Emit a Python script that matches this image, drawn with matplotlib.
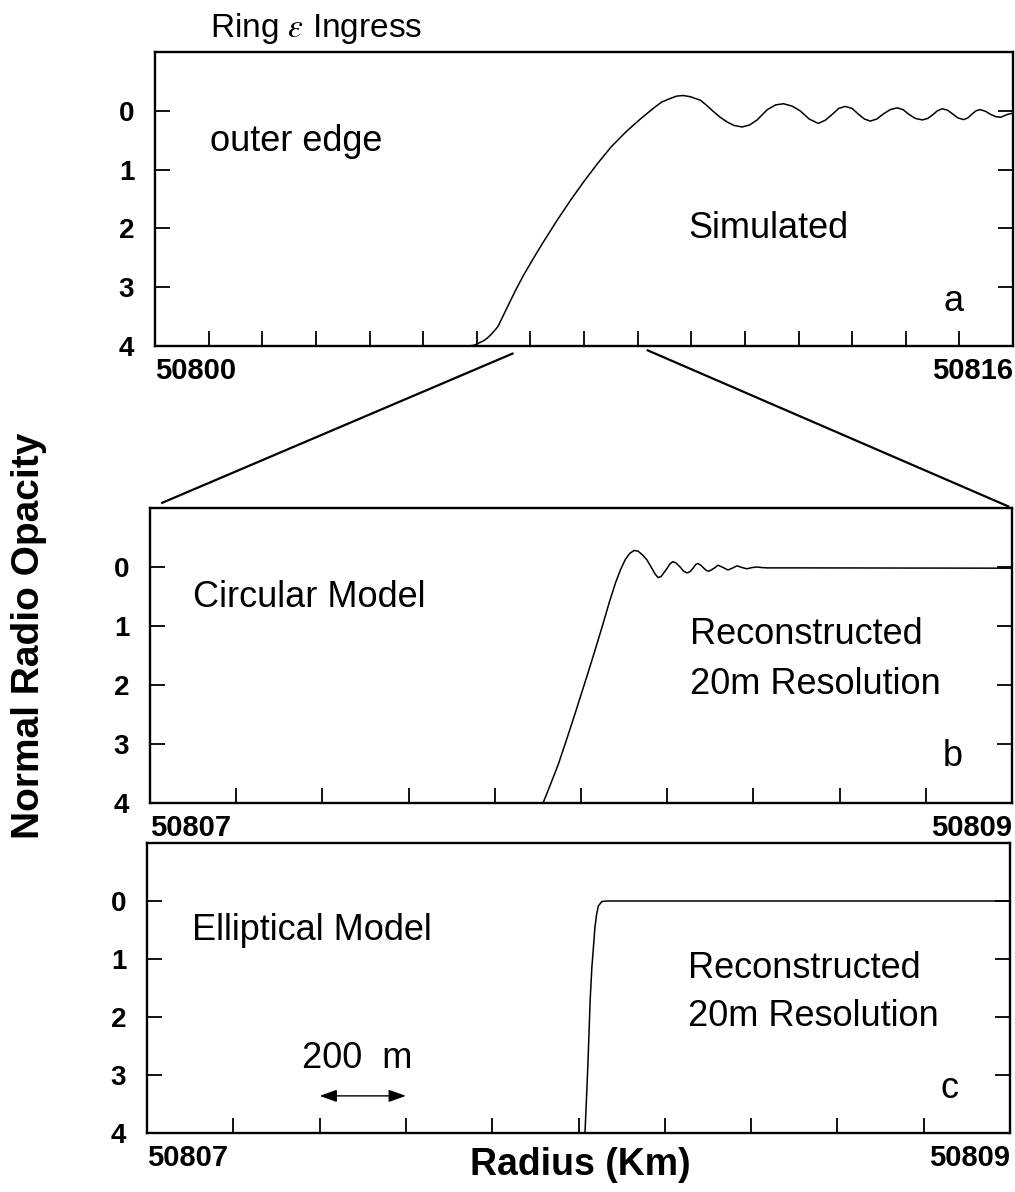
import matplotlib
matplotlib.use("Agg")
import matplotlib.pyplot as plt
from matplotlib.lines import Line2D

plt.rcParams['font.family'] = ['Liberation Sans', 'DejaVu Sans']
plt.rcParams['mathtext.fontset'] = 'stix'

# ---- (a) simulated outer-edge profile ----
sim_radius = [50805.70, 50805.85, 50805.93, 50806.00, 50806.06, 50806.13, 50806.19,
              50806.25, 50806.30, 50806.35, 50806.40, 50806.57, 50806.72, 50806.87,
              50807.05, 50807.25, 50807.50, 50807.75, 50808.00, 50808.25, 50808.50,
              50808.78, 50809.05, 50809.29, 50809.45, 50809.61, 50809.73, 50809.85,
              50809.98, 50810.17, 50810.29, 50810.41, 50810.54, 50810.67, 50810.80,
              50810.95, 50811.09, 50811.23, 50811.32, 50811.42, 50811.57, 50811.72,
              50811.88, 50812.03, 50812.20, 50812.37, 50812.50, 50812.63, 50812.75,
              50812.87, 50813.00, 50813.12, 50813.23, 50813.34, 50813.46, 50813.58,
              50813.71, 50813.84, 50813.95, 50814.05, 50814.18, 50814.31, 50814.41,
              50814.50, 50814.59, 50814.68, 50814.78, 50814.87, 50814.97, 50815.08,
              50815.16, 50815.23, 50815.31, 50815.39, 50815.49, 50815.58, 50815.68,
              50815.77, 50815.90, 50816.00]
sim_opacity = [4.00, 4.00, 3.99, 3.97, 3.94, 3.91, 3.87,
               3.82, 3.77, 3.72, 3.66, 3.34, 3.06, 2.80,
               2.52, 2.22, 1.86, 1.52, 1.20, 0.90, 0.62,
               0.36, 0.14, -0.04, -0.15, -0.21, -0.25, -0.26,
               -0.24, -0.18, -0.09, 0.01, 0.11, 0.19, 0.25,
               0.275, 0.24, 0.155, 0.07, -0.02, -0.10, -0.12,
               -0.08, 0.00, 0.14, 0.215, 0.16, 0.06, -0.04,
               -0.075, -0.04, 0.06, 0.14, 0.175, 0.14, 0.055,
               -0.02, -0.05, -0.02, 0.055, 0.13, 0.155, 0.13,
               0.07, 0.00, -0.035, -0.01, 0.05, 0.12, 0.15,
               0.12, 0.06, 0.00, -0.02, 0.01, 0.06, 0.10,
               0.11, 0.06, 0.04]

# ---- (b) circular-model reconstruction ----
circ_radius = [50807.912, 50807.930, 50807.948, 50807.965, 50807.982, 50807.999,
               50808.016, 50808.033, 50808.050, 50808.066, 50808.080, 50808.092,
               50808.103, 50808.113, 50808.123, 50808.132, 50808.142, 50808.153,
               50808.165, 50808.172, 50808.179, 50808.186, 50808.193, 50808.200,
               50808.206, 50808.213, 50808.220, 50808.230, 50808.238, 50808.246,
               50808.253, 50808.260, 50808.266, 50808.271, 50808.278, 50808.285,
               50808.291, 50808.297, 50808.307, 50808.318, 50808.330, 50808.341,
               50808.351, 50808.362, 50808.374, 50808.385, 50808.397, 50808.408,
               50808.420, 50808.432, 50808.500, 50809.000]
circ_opacity = [4.00, 3.67, 3.33, 2.96, 2.58, 2.19,
                1.80, 1.40, 0.99, 0.59, 0.27, 0.04,
                -0.13, -0.23, -0.28, -0.27, -0.21, -0.12,
                0.03, 0.12, 0.18, 0.16, 0.09, 0.02,
                -0.05, -0.09, -0.07, 0.00, 0.07, 0.10,
                0.08, 0.02, -0.04, -0.06, -0.03, 0.02,
                0.06, 0.07, 0.03, -0.03, 0.01, 0.05,
                0.02, -0.02, 0.01, 0.03, 0.01, 0.00,
                0.01, 0.015, 0.015, 0.02]

# ---- (c) elliptical-model reconstruction ----
ell_radius = [50808.015, 50808.020, 50808.023, 50808.027, 50808.031, 50808.034,
              50808.038, 50808.042, 50808.046, 50808.054, 50808.065, 50809.000]
ell_opacity = [4.00, 3.15, 2.57, 1.71, 1.14, 0.86,
               0.46, 0.23, 0.085, 0.01, 0.00, 0.00]

ytick_vals = [0, 1, 2, 3, 4]
xticks_a = list(range(50800, 50817))
xticks_bc = [50807 + 0.2 * k for k in range(11)]
xlabels_a = ['50800'] + [''] * 15 + ['50816']
xlabels_bc = ['50807'] + [''] * 9 + ['50809']

W, H = 1015, 1192
fig = plt.figure(figsize=(W / 100, H / 100), dpi=100)


def box(left, right, top, bottom):
    return [left / W, 1 - bottom / H, (right - left) / W, (bottom - top) / H]


ax_a = fig.add_axes(box(155, 1013, 52, 346))
ax_b = fig.add_axes(box(150, 1012, 508, 803))
ax_c = fig.add_axes(box(147, 1010, 843, 1133))


def style(ax, xlim, xticks, xlabels):
    ax.set_xlim(*xlim)
    ax.set_ylim(4, -1)
    ax.set_xticks(xticks, xlabels)
    ax.set_yticks(ytick_vals, [str(v) for v in ytick_vals])
    ax.tick_params(axis='x', direction='in', length=11, width=1.3, top=False,
                   pad=8, labelsize=21)
    ax.tick_params(axis='y', direction='in', length=11, width=1.3, right=True,
                   left=True, pad=15, labelsize=20)
    for s in ax.spines.values():
        s.set_linewidth(1.7)
    labs = ax.get_xticklabels()
    labs[0].set_ha('left')
    labs[-1].set_ha('right')
    for lab in ax.get_xticklabels() + ax.get_yticklabels():
        lab.set_fontweight('bold')


style(ax_a, (50800, 50816), xticks_a, xlabels_a)
style(ax_b, (50807, 50809), xticks_bc, xlabels_bc)
style(ax_c, (50807, 50809), xticks_bc, xlabels_bc)

line_kw = dict(color='black', lw=1.1, solid_joinstyle='round')
ax_a.plot(sim_radius, sim_opacity, **line_kw)
ax_b.plot(circ_radius, circ_opacity, **line_kw)
ax_c.plot(ell_radius, ell_opacity, **line_kw)

txt = dict(fontsize=26, color='black', va='baseline', ha='left')
ax_a.text(50801.03, 0.69, 'outer edge', **txt)
ax_a.text(50809.94, 2.17, 'Simulated', **txt)
ax_a.text(50814.70, 3.41, 'a', **txt)

ax_b.text(50807.10, 0.68, 'Circular Model', **txt)
ax_b.text(50808.253, 1.30, 'Reconstructed', **txt)
ax_b.text(50808.253, 2.15, '20m Resolution', **txt)
ax_b.text(50808.84, 3.38, 'b', **txt)

ax_c.text(50807.104, 0.67, 'Elliptical Model', **txt)
ax_c.text(50808.254, 1.32, 'Reconstructed', **txt)
ax_c.text(50808.254, 2.15, '20m Resolution', **txt)
ax_c.text(50808.84, 3.40, 'c', **txt)

# 200 m scale bar
ax_c.text(50807.36, 2.88, '200  m', **txt)
ax_c.annotate('', xy=(50807.4, 3.36), xytext=(50807.6, 3.36),
              arrowprops=dict(arrowstyle='<|-|>,head_length=0.7,head_width=0.25',
                              color='black', lw=1.0, shrinkA=0, shrinkB=0,
                              mutation_scale=15))

# zoom connectors from the (a) axis down to the corners of (b)
to_fig = fig.transFigure.inverted()
x0, x1 = ax_b.get_xlim()
for xa, corner, t0, t1 in [(x0, (0, 1), 0.047, 0.968), (x1, (1, 1), 0.027, 0.99)]:
    p0 = to_fig.transform(ax_a.transData.transform((xa, 4)))
    p1 = to_fig.transform(ax_b.transAxes.transform(corner))
    s = p0 + t0 * (p1 - p0)
    e = p0 + t1 * (p1 - p0)
    fig.add_artist(Line2D([s[0], e[0]], [s[1], e[1]], color='black', lw=1.6,
                          transform=fig.transFigure))

fig.text(210 / W, 1 - 28 / H, r'Ring $\varepsilon$ Ingress', fontsize=24,
         ha='left', va='center')
fig.text(580 / W, 1 - 1175 / H, 'Radius (Km)', fontsize=27, fontweight='bold',
         ha='center', va='baseline')
fig.text(29 / W, 1 - 636 / H, 'Normal Radio Opacity', fontsize=28,
         fontweight='bold', rotation=90, ha='center', va='center')

fig.savefig('out.png', dpi=100)
